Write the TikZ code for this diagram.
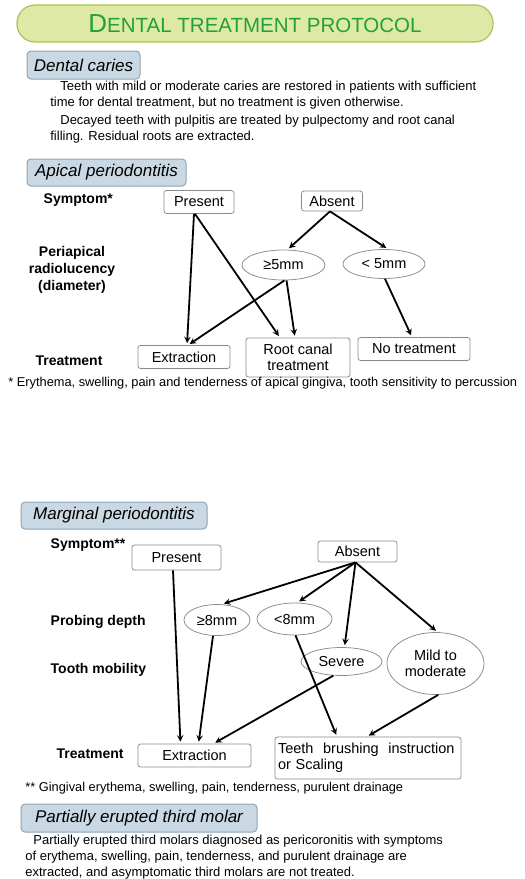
\documentclass[tikz,border=0pt]{standalone}
\usepackage{fontspec}
\setmainfont{Liberation Sans}
\usetikzlibrary{shapes.geometric}
\definecolor{titlefill}{HTML}{DEE9A6}
\definecolor{titledraw}{HTML}{A8C35E}
\definecolor{titletext}{HTML}{22A03C}
\definecolor{headfill}{HTML}{C9D8E3}
\definecolor{headdraw}{HTML}{8FA3B5}
\definecolor{boxdraw}{HTML}{8A8A8A}
\tikzset{every picture/.style={line width=0.75pt}}

\begin{document}
\begin{tikzpicture}[x=1pt, y=-1pt, line join=round, >=stealth,
  box/.style={draw=boxdraw, rounded corners=2.5pt, inner sep=1pt, font=\fontsize{14.5}{16}\selectfont},
  oval/.style={draw=boxdraw, ellipse, inner sep=0pt, font=\fontsize{14.5}{16}\selectfont},
  head/.style={draw=headdraw, fill=headfill, rounded corners=4pt, line width=1pt, font=\itshape\fontsize{17}{19}\selectfont},
  rowlab/.style={align=center, font=\bfseries\fontsize{14}{17}\selectfont},
  body/.style={anchor=north west, align=left, inner sep=0pt, font=\fontsize{13}{15.8}\selectfont},
  note/.style={anchor=west, inner sep=0pt, font=\fontsize{12.8}{15}\selectfont},
  arr/.style={->, line width=1.8pt, shorten >=2pt}]
\useasboundingbox (0,0) rectangle (525,879);

% title
\node[draw=titledraw, fill=titlefill, line width=1.2pt, rounded corners=18pt, minimum width=476pt, minimum height=37pt,
  text=titletext] (title) at (255,23.5) {\fontsize{26}{27}\selectfont D\fontsize{20.5}{27}\selectfont ENTAL TREATMENT PROTOCOL};

% dental caries
\node[head, minimum width=113pt, minimum height=28pt] (caries) at (83.5,65) {Dental caries};
\node[body] (cariestxt) at (50,81) {\hspace*{10pt}Teeth with mild or moderate caries are restored in patients with sufficient\\
time for dental treatment, but no treatment is given otherwise.\\[2.5pt]
\hspace*{10pt}Decayed teeth with pulpitis are treated by pulpectomy and root canal\\
filling. Residual roots are extracted.};

% apical periodontitis
\node[head, minimum width=159pt, minimum height=27pt] (apical) at (106.5,172.5) {Apical periodontitis};
\node[rowlab, anchor=west] (symA) at (40,200) {Symptom*};
\node[rowlab] (radA) at (72,270) {Periapical\\radiolucency\\(diameter)};
\node[rowlab] (trtA) at (69,361) {Treatment};

\node[box, minimum width=70pt, minimum height=23pt] (presA) at (199,202) {Present};
\node[box, minimum width=61pt, minimum height=20pt] (absA) at (332,201) {Absent};
\node[oval, minimum width=83pt, minimum height=30pt] (geA) at (283.5,265) {≥5mm};
\node[oval, minimum width=82pt, minimum height=29pt] (ltA) at (384,264) {< 5mm};
\node[box, minimum width=92pt, minimum height=23pt] (extA) at (184,357) {Extraction};
\node[box, minimum width=104pt, minimum height=39pt, align=center] (rctA) at (298,357.5) {Root canal\\treatment};
\node[box, minimum width=112pt, minimum height=23pt] (noA) at (414,349) {No treatment};

\draw[arr] ([xshift=-5pt]presA.south) -- ([xshift=3pt]extA.north);
\draw[arr] ([xshift=-4pt]presA.south) -- ([xshift=-18pt]rctA.north);
\draw[arr] ([xshift=-2pt]absA.south) -- ([xshift=4pt]geA.north);
\draw[arr] ([xshift=-2pt]absA.south) -- ([xshift=4pt]ltA.north);
\draw[arr] ([xshift=1pt]geA.south) -- ([xshift=4pt]extA.north);
\draw[arr] ([xshift=3pt]geA.south) -- ([xshift=-3pt]rctA.north);
\draw[arr] ([xshift=1pt]ltA.south) -- ([xshift=-2pt]noA.north);

\node[note] (noteA) at (8,383) {* Erythema, swelling, pain and tenderness of apical gingiva, tooth sensitivity to percussion};

% marginal periodontitis
\node[head, minimum width=186pt, minimum height=27pt] (marginal) at (114,515.5) {Marginal periodontitis};
\node[rowlab, anchor=west] (symM) at (47,545) {Symptom**};
\node[rowlab, anchor=west] (probM) at (47,622) {Probing depth};
\node[rowlab, anchor=west] (mobM) at (47,670) {Tooth mobility};
\node[rowlab, anchor=west] (trtM) at (53,754) {Treatment};

\node[box, minimum width=89pt, minimum height=25pt] (presM) at (176.5,557.5) {Present};
\node[box, minimum width=79pt, minimum height=21pt] (absM) at (357.5,551.5) {Absent};
\node[oval, minimum width=66pt, minimum height=31pt] (geM) at (217,620) {≥8mm};
\node[oval, minimum width=75pt, minimum height=32pt] (ltM) at (294.5,619) {<8mm};
\node[oval, minimum width=81pt, minimum height=28pt] (sevM) at (341.5,661.5) {Severe};
\node[oval, minimum width=97pt, minimum height=62pt, align=center] (mildM) at (435.5,663.5) {Mild to\\moderate};
\node[box, minimum width=113pt, minimum height=23pt] (extM) at (194.5,755.5) {Extraction};
\node[box, minimum width=186pt, minimum height=42pt, text width=180pt, align=left] (tbiM) at (368,758) {Teeth~~brushing~~instruction\\or Scaling};

\draw[arr] ([xshift=-3.5pt]presM.south) -- ([xshift=-14pt]extM.north);
\draw[arr] ([xshift=-4pt]geM.south) -- ([xshift=4pt]extM.north);
\draw[arr] (sevM.-120) -- ([xshift=19pt]extM.north);
\draw[arr] ([xshift=1pt]ltM.south) -- ([xshift=-31pt]tbiM.north);
\draw[arr] (mildM.-85) -- ([xshift=-1pt]tbiM.north);
\draw[arr] ([xshift=-2pt]absM.south) -- ([xshift=5pt]geM.north);
\draw[arr] ([xshift=-2pt]absM.south) -- ([xshift=3pt]ltM.north);
\draw[arr] ([xshift=-2pt]absM.south) -- ([xshift=3pt]sevM.north);
\draw[arr] ([xshift=-2pt]absM.south) -- ([xshift=2pt]mildM.north);

\node[note] (noteM) at (25,788) {** Gingival erythema, swelling, pain, tenderness, purulent drainage};

% partially erupted third molar
\node[head, minimum width=236pt, minimum height=28pt] (molar) at (139,818) {Partially erupted third molar};
\node[body] (molartxt) at (25,835) {\hspace*{8pt}Partially erupted third molars diagnosed as pericoronitis with symptoms\\
of erythema, swelling, pain, tenderness, and purulent drainage are\\
extracted, and asymptomatic third molars are not treated.};
\end{tikzpicture}
\end{document}
